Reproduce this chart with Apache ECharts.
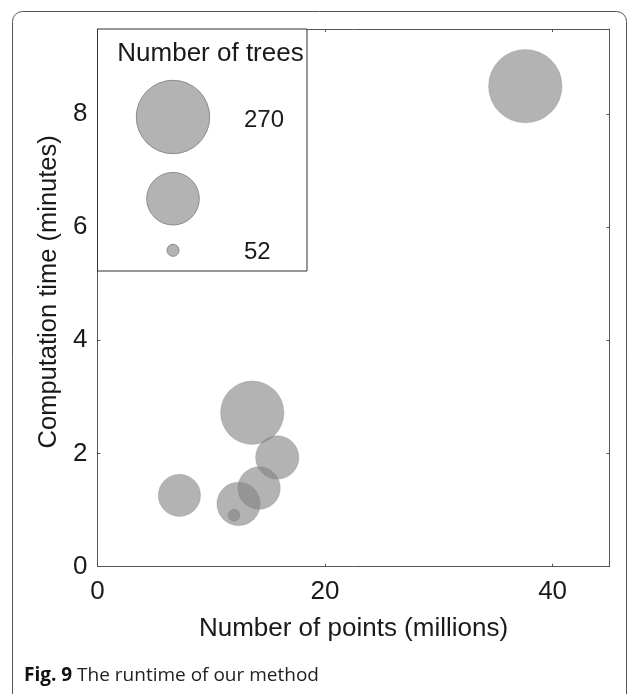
<!DOCTYPE html>
<html>
<head>
<meta charset="utf-8">
<script src="https://cdn.jsdelivr.net/npm/echarts@6/dist/echarts.min.js"></script>
<style>
html,body{margin:0;padding:0;background:#fff;}
#chart{width:637px;height:694px;}
</style>
</head>
<body>
<div id="chart"></div>
<script>
// ---- data ----
const pointsMillions = [37.6, 13.6, 15.8, 14.2, 7.2, 12.4, 12.0];
const timeMinutes    = [8.49, 2.72, 1.93, 1.39, 1.26, 1.11, 0.91];
const numTrees       = [270, 213, 124, 121, 120, 124, 52];
const xTicks = [0, 20, 40];
const yTicks = [0, 2, 4, 6, 8];
const legendValues = [270, 161, 52];
const legendLabels = ['270', '', '52'];
const xTitle = 'Number of points (millions)';
const yTitle = 'Computation time (minutes)';
const legendTitle = 'Number of trees';
const captionBold = 'Fig. 9';
const captionText = ' The runtime of our method';

// bubble area maps linearly between smallest and largest tree counts
const vMin = 52, vMax = 270, rMin = 6, rMax = 36.7;
function radius(v) {
  return Math.sqrt(rMin * rMin + (v - vMin) / (vMax - vMin) * (rMax * rMax - rMin * rMin));
}

const chart = echarts.init(document.getElementById('chart'), null, {renderer: 'canvas'});
const FONT = 'Liberation Sans, Arial, sans-serif';
const axisCol = '#555';
const txtCol = '#1a1a1a';

const grid = {left: 97.5, right: 27.5, top: 29, bottom: 127.3};

const data = pointsMillions.map((x, i) => [x, timeMinutes[i], numTrees[i]]);

// legend box geometry
const lgX = 97.5, lgY = 29, lgW = 209.5, lgH = 242;
const lgCx = 173, lgCy = [117, 198.7, 250.3];
const lgLabelY = [120, 0, 252.5];

const graphics = [
  {type: 'rect', shape: {x: 12.5, y: 11.5, width: 614, height: 720, r: 10},
   style: {fill: 'none', stroke: '#555', lineWidth: 1}, z: 0, silent: true},
  {type: 'rect', shape: {x: lgX, y: lgY, width: lgW, height: lgH},
   style: {fill: '#fff', stroke: '#333', lineWidth: 1}, z: 100},
  {type: 'text', x: 210.5, y: 53.5, z: 101,
   style: {text: legendTitle, font: '26px ' + FONT, fill: txtCol, align: 'center', verticalAlign: 'middle'}},
  {type: 'text', x: 24, y: 676, z: 101,
   style: {
     text: '{b|' + captionBold + '}{n|' + captionText + '}',
     verticalAlign: 'middle',
     rich: {
       b: {fontFamily: 'Open Sans', fontWeight: 'bold', fontSize: 19, fill: '#111'},
       n: {fontFamily: 'Open Sans', fontSize: 19, fill: '#222'}
     }
   }}
];
legendValues.forEach((v, i) => {
  graphics.push({type: 'circle', shape: {cx: lgCx, cy: lgCy[i], r: radius(v)}, z: 101,
    style: {fill: '#b3b3b3', stroke: '#8c8c8c', lineWidth: 1}});
  if (legendLabels[i]) {
    graphics.push({type: 'text', x: 244, y: lgLabelY[i], z: 101,
      style: {text: legendLabels[i], font: '24px ' + FONT, fill: txtCol, align: 'left', verticalAlign: 'middle'}});
  }
});

const xBase = {
  type: 'value', min: 0, max: 45, interval: 20,
  splitLine: {show: false},
  axisLine: {show: true, onZero: false, lineStyle: {color: axisCol, width: 1}},
  axisTick: {show: true, inside: true, length: 3, lineStyle: {color: axisCol}, customValues: xTicks}
};
const yBase = {
  type: 'value', min: 0, max: 9.5, interval: 2,
  splitLine: {show: false},
  axisLine: {show: true, onZero: false, lineStyle: {color: axisCol, width: 1}},
  axisTick: {show: true, inside: true, length: 3, lineStyle: {color: axisCol}, customValues: yTicks}
};

chart.setOption({
  animation: false,
  backgroundColor: '#fff',
  grid: Object.assign({outerBoundsMode: 'none', containLabel: false}, grid),
  xAxis: [
    Object.assign({}, xBase, {
      position: 'bottom',
      name: xTitle, nameLocation: 'middle', nameGap: 49,
      nameTextStyle: {fontFamily: FONT, fontSize: 26, color: txtCol},
      axisLabel: {show: true, margin: 12, fontFamily: FONT, fontSize: 26, color: txtCol, customValues: xTicks}
    }),
    Object.assign({}, xBase, {position: 'top', axisLabel: {show: false}})
  ],
  yAxis: [
    Object.assign({}, yBase, {
      position: 'left',
      name: yTitle, nameLocation: 'middle', nameGap: 34,
      nameTextStyle: {fontFamily: FONT, fontSize: 25.5, color: txtCol, padding: [0, 0, 0, 12]},
      axisLabel: {show: true, margin: 10, fontFamily: FONT, fontSize: 26, color: txtCol, customValues: yTicks}
    }),
    Object.assign({}, yBase, {position: 'right', axisLabel: {show: false}})
  ],
  series: [{
    type: 'scatter',
    xAxisIndex: 0, yAxisIndex: 0,
    data: data,
    symbol: 'circle',
    symbolSize: (val) => 2 * radius(val[2]),
    itemStyle: {color: '#808080', opacity: 0.6, borderColor: '#808080', borderWidth: 0.5},
    emphasis: {disabled: true},
    z: 2
  }],
  graphic: graphics
});
</script>
</body>
</html>
